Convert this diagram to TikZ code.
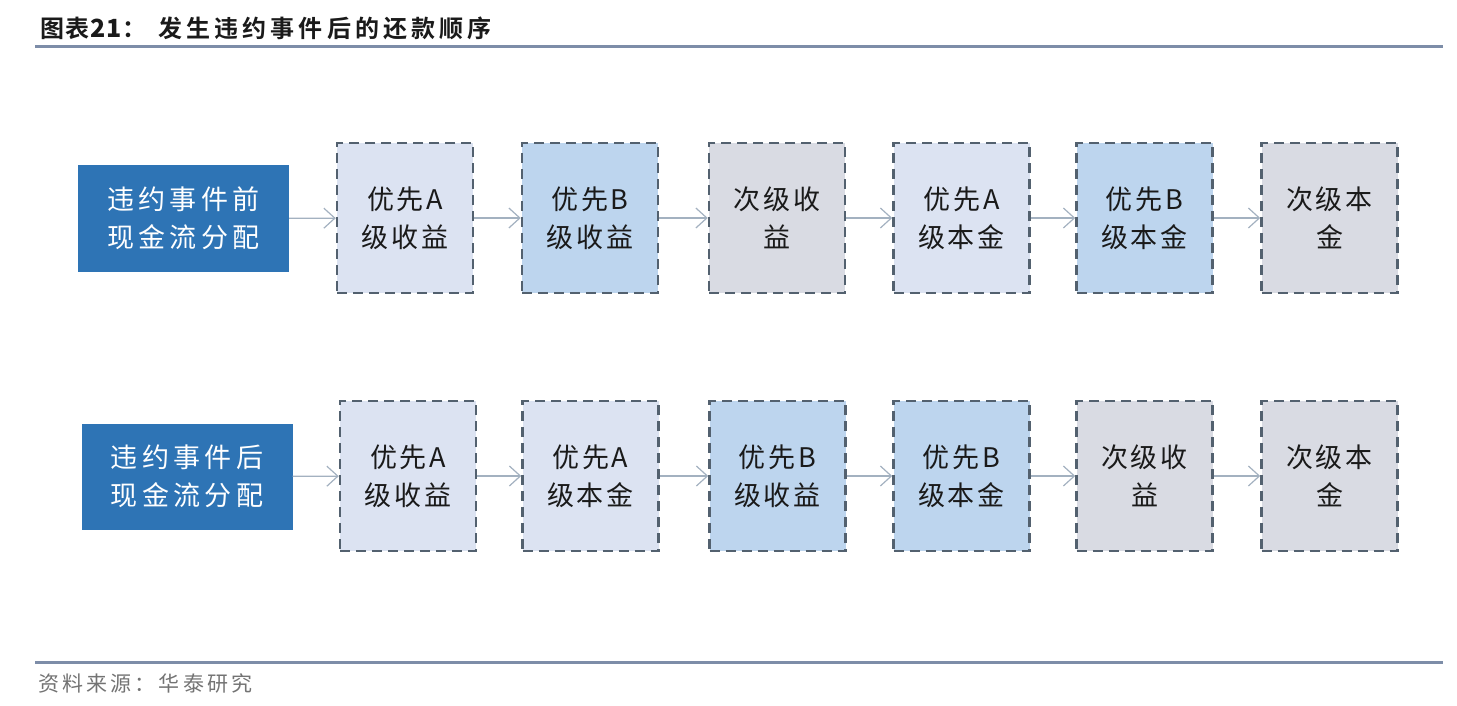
\documentclass[tikz,border=0pt]{standalone}
\usepackage{fontspec}
\setmainfont{Liberation Sans}
\newfontfamily\cjk[LetterSpace=10]{Noto Sans CJK SC}
\newfontfamily\cjkdark[LetterSpace=16]{Noto Sans CJK SC}
\newfontfamily\cjktitle[LetterSpace=17]{Noto Sans CJK SC Bold}
\newfontfamily\cjktitlehead[LetterSpace=4]{Noto Sans CJK SC Bold}
\newfontfamily\cjksrc[LetterSpace=15]{Noto Sans CJK SC}
\usetikzlibrary{arrows.meta}
\definecolor{darkbox}{HTML}{2E74B5}
\definecolor{boxA}{HTML}{DCE3F2}
\definecolor{boxB}{HTML}{BDD5EE}
\definecolor{boxC}{HTML}{D9DBE3}
\definecolor{dashcol}{HTML}{53616F}
\definecolor{arrcol}{HTML}{A3B1C0}
\definecolor{rulecol}{HTML}{7D8DA8}
\definecolor{txt}{HTML}{1A1A1A}
\tikzset{
  startbox/.style={fill=darkbox, draw=none, minimum width=211pt, minimum height=106pt,
    text=white, align=center, font=\fontsize{27}{38}\cjkdark, inner sep=0pt},
  stagebox/.style={draw=dashcol, line width=2.5pt, dash pattern=on 10pt off 6pt,
    minimum width=136pt, minimum height=150pt, text=txt, align=center,
    font=\fontsize{27}{38}\cjk, inner sep=0pt},
  flow/.style={draw=arrcol, line width=1.2pt, -{Straight Barb[length=11pt,width=20pt,line width=1.2pt]}},
  rulebar/.style={draw=rulecol, line width=3pt}
}
\begin{document}
\begin{tikzpicture}[x=1pt,y=-1pt]
\useasboundingbox (0,0) rectangle (1457,706);
\node[anchor=base west, text=txt, inner sep=0pt] (title) at (40,38)
  {\fontsize{24}{26}\cjktitlehead 图表\textbf{\fontsize{25}{26}\selectfont 21}：\hspace{12pt}\cjktitle 发生违约事件后的还款顺序};
\coordinate (tl) at (35,47);
\coordinate (tr) at (1443,47);
\draw[rulebar] (tl) -- (tr);
\coordinate (bl) at (35,662);
\coordinate (br) at (1443,662);
\draw[rulebar] (bl) -- (br);
\node[anchor=base west, font=\fontsize{21}{24}\cjksrc, text=black!55, inner sep=0pt] (src) at (38,691) {资料来源：华泰研究};

% row 1
\node[startbox] (s1) at (183.5,218.5) {违约事件前\\现金流分配};
\node[stagebox, fill=boxA] (a1) at (405,218) {优先A\\级收益};
\node[stagebox, fill=boxB] (a2) at (590,218) {优先B\\级收益};
\node[stagebox, fill=boxC] (a3) at (777,218) {次级收\\益};
\node[stagebox, fill=boxA] (a4) at (961.5,218) {优先A\\级本金};
\node[stagebox, fill=boxB] (a5) at (1144.5,218) {优先B\\级本金};
\node[stagebox, fill=boxC] (a6) at (1329.5,218) {次级本\\金};
\draw[flow] (s1) -- (a1);
\draw[flow] (a1) -- (a2);
\draw[flow] (a2) -- (a3);
\draw[flow] (a3) -- (a4);
\draw[flow] (a4) -- (a5);
\draw[flow] (a5) -- (a6);

% row 2
\node[startbox] (s2) at (187,476.5) {违约事件后\\现金流分配};
\node[stagebox, fill=boxA] (b1) at (408,476) {优先A\\级收益};
\node[stagebox, fill=boxA] (b2) at (590.5,476) {优先A\\级本金};
\node[stagebox, fill=boxB] (b3) at (777.5,476) {优先B\\级收益};
\node[stagebox, fill=boxB] (b4) at (961.5,476) {优先B\\级本金};
\node[stagebox, fill=boxC] (b5) at (1144.5,476) {次级收\\益};
\node[stagebox, fill=boxC] (b6) at (1329.5,476) {次级本\\金};
\draw[flow] (s2) -- (b1);
\draw[flow] (b1) -- (b2);
\draw[flow] (b2) -- (b3);
\draw[flow] (b3) -- (b4);
\draw[flow] (b4) -- (b5);
\draw[flow] (b5) -- (b6);
\end{tikzpicture}
\end{document}
